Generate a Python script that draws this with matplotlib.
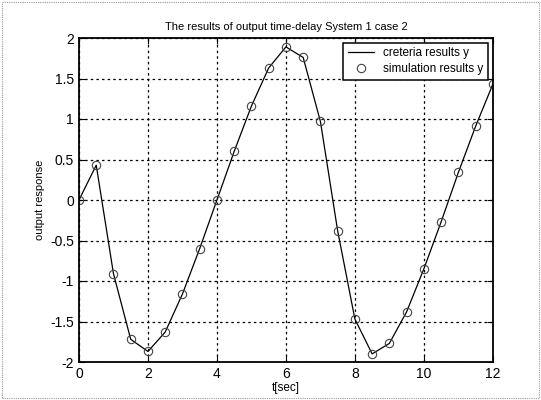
import matplotlib
matplotlib.use("Agg")
import matplotlib.pyplot as plt
from matplotlib.patches import Rectangle

# sample times and responses
t = [0, 0.5, 1, 1.5, 2, 2.5, 3, 3.5, 4, 4.5, 5, 5.5, 6, 6.5, 7, 7.5, 8,
     8.5, 9, 9.5, 10, 10.5, 11, 11.5, 12]
y_crit = [0, 0.43, -0.91, -1.72, -1.87, -1.63, -1.16, -0.60, 0, 0.60, 1.16,
          1.63, 1.89, 1.76, 0.97, -0.38, -1.47, -1.90, -1.77, -1.38, -0.85,
          -0.27, 0.34, 0.91, 1.43]
y_sim = list(y_crit)

xticks = [0, 2, 4, 6, 8, 10, 12]
yticks = [-2, -1.5, -1, -0.5, 0, 0.5, 1, 1.5, 2]
yticklabels = ["-2", "-1.5", "-1", "-0.5", "0", "0.5", "1", "1.5", "2"]

plt.rcParams["font.family"] = ["Liberation Sans", "DejaVu Sans"]

fig = plt.figure(figsize=(5.41, 4.0), dpi=100)
fig.patches.append(Rectangle((0.003, 0.005), 0.994, 0.99, transform=fig.transFigure,
                             fill=False, edgecolor="#999999", lw=0.8, ls=(0, (1, 1))))
ax = fig.add_axes([0.146, 0.095, 0.765, 0.81])

ax.plot(t, y_crit, "-", color="black", lw=0.9, label="creteria results y")
ax.plot(t, y_sim, "o", mfc="none", mec="#444444", ms=6, mew=0.8,
        label="simulation results y")

ax.set_xlim(0, 12)
ax.set_ylim(-2, 2)
ax.set_xticks(xticks)
ax.set_yticks(yticks)
ax.set_yticklabels(yticklabels)
ax.tick_params(direction="in", top=True, right=True, labelsize=10, length=4)
ax.grid(True, color="black", ls=(0, (2, 2.5)), lw=0.9)
for s in ax.spines.values():
    s.set_linewidth(1.3)

ax.set_title("The results of output time-delay System 1 case 2", fontsize=8, pad=6)
ax.set_xlabel("t[sec]", fontsize=8.5, labelpad=1)
ax.set_ylabel("output response", fontsize=8, labelpad=4)

leg = ax.legend(loc="upper right", fontsize=8.5, frameon=True, fancybox=False,
                borderaxespad=0.4, handlelength=2.2, borderpad=0.4, labelspacing=0.3)
leg.get_frame().set_edgecolor("black")
leg.get_frame().set_linewidth(1.1)
leg.get_frame().set_alpha(1)

fig.savefig("out.png", dpi=100, facecolor="white")
